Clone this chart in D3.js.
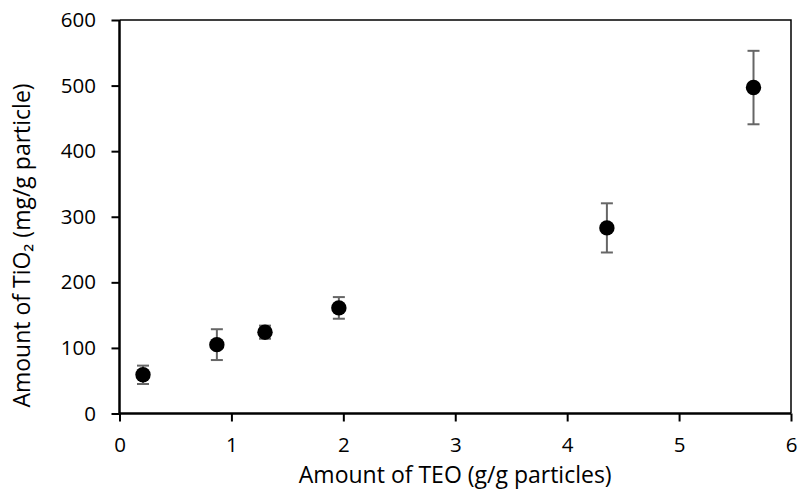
<html>
  <head>
    <script src="https://d3js.org/d3.v7.min.js"></script>
    <style>
      body { margin: 0; background: #fff; }
      text { font-family: "Open Sans", "Noto Sans", sans-serif; fill: #000; }
    </style>
  </head>
  <body>
    <script>
      // data
      var teo = [0.21, 0.87, 1.30, 1.96, 4.355, 5.665];
      var tio2 = [59, 105, 124, 161, 283, 497];
      var errs = [14, 23.5, 10, 16.5, 37.5, 56];
      var xTicks = [0, 1, 2, 3, 4, 5, 6];
      var yTicks = [0, 100, 200, 300, 400, 500, 600];

      var width = 799, height = 491;
      var margin = {left: 119.5, right: 8, top: 20, bottom: 77.5};

      var svg = d3.select("body").append("svg")
                  .attr("width", width).attr("height", height);

      var x = d3.scaleLinear().domain([0, 6]).range([margin.left, width - margin.right]);
      var y = d3.scaleLinear().domain([0, 600]).range([height - margin.bottom, margin.top]);

      // top and right frame
      svg.append("path")
         .attr("d", "M" + x(0) + "," + y(600) + "H" + x(6) + "V" + y(0))
         .attr("fill", "none").attr("stroke", "#000").attr("stroke-width", 1.5);

      var xAxis = svg.append("g")
         .attr("transform", "translate(0," + y(0) + ")")
         .call(d3.axisBottom(x).tickValues(xTicks).tickSize(8).tickPadding(15.5).tickFormat(d3.format("d")));
      var yAxis = svg.append("g")
         .attr("transform", "translate(" + x(0) + ",0)")
         .call(d3.axisLeft(y).tickValues(yTicks).tickSize(8).tickPadding(15.5).tickFormat(d3.format("d")));

      [xAxis, yAxis].forEach(function(g) {
        g.attr("font-size", null).attr("font-family", null);
        g.select(".domain").attr("stroke-width", 2.5);
        g.selectAll(".tick line").attr("stroke-width", 2);
        g.selectAll(".tick text").style("font-size", "20.5px");
      });
      xAxis.select(".domain").attr("d", "M" + x(0) + ",0H" + x(6));
      yAxis.select(".domain").attr("d", "M0," + y(0) + "V" + y(600));

      var pts = teo.map(function(d, i) { return {x: d, y: tio2[i], e: errs[i]}; });

      // error bars
      var eb = svg.selectAll(".err").data(pts).enter().append("g")
                  .attr("stroke", "#666").attr("stroke-width", 2);
      eb.append("line")
        .attr("x1", function(d) { return x(d.x); }).attr("x2", function(d) { return x(d.x); })
        .attr("y1", function(d) { return y(d.y - d.e); }).attr("y2", function(d) { return y(d.y + d.e); });
      eb.append("line")
        .attr("x1", function(d) { return x(d.x) - 6; }).attr("x2", function(d) { return x(d.x) + 6; })
        .attr("y1", function(d) { return y(d.y + d.e); }).attr("y2", function(d) { return y(d.y + d.e); });
      eb.append("line")
        .attr("x1", function(d) { return x(d.x) - 6; }).attr("x2", function(d) { return x(d.x) + 6; })
        .attr("y1", function(d) { return y(d.y - d.e); }).attr("y2", function(d) { return y(d.y - d.e); });

      svg.selectAll(".dot").data(pts).enter().append("circle")
         .attr("cx", function(d) { return x(d.x); })
         .attr("cy", function(d) { return y(d.y); })
         .attr("r", 7.7).attr("fill", "#000");

      // axis titles
      svg.append("text")
         .attr("x", x(3)).attr("y", 483)
         .attr("text-anchor", "middle").style("font-size", "23px")
         .text("Amount of TEO (g/g particles)");
      svg.append("text")
         .attr("transform", "translate(30,245.5) rotate(-90)")
         .attr("text-anchor", "middle").style("font-size", "23px")
         .text("Amount of TiO₂ (mg/g particle)");
    </script>
  </body>
</html>
